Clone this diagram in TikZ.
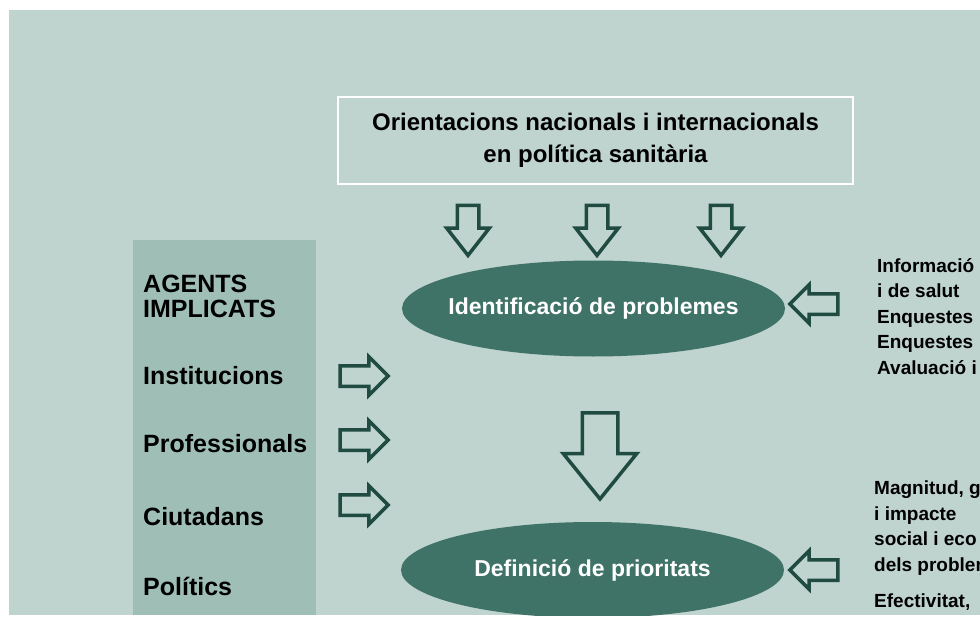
\documentclass[tikz,border=0pt]{standalone}
\usepackage{fontspec}
\setmainfont{Liberation Sans}
\usetikzlibrary{shapes.geometric,shapes.arrows}

\definecolor{plotbg}{HTML}{BFD3CF}
\definecolor{agentbg}{HTML}{9FBFB6}
\definecolor{stepfill}{HTML}{3F7367}
\definecolor{arrowline}{HTML}{1F4B41}

\newcommand\titlestyle{\fontsize{24}{32}\selectfont\bfseries}
\newcommand\agentstyle{\fontsize{25}{25}\selectfont\bfseries}
\newcommand\stepstyle{\fontsize{23}{23}\selectfont\bfseries}
\newcommand\sourcestyle{\fontsize{19}{25.5}\selectfont\bfseries}

\tikzset{
  hollowarrow/.style={single arrow, draw=arrowline, line width=3.5, fill=plotbg},
  smalldown/.style={hollowarrow, shape border rotate=270, minimum height=50, minimum width=39,
    inner sep=9, single arrow head extend=10.5, single arrow tip angle=76},
  bigdown/.style={hollowarrow, shape border rotate=270, minimum height=86, minimum width=70,
    inner sep=16, single arrow head extend=19, single arrow tip angle=78},
  sidearrow/.style={hollowarrow, minimum height=48, minimum width=35,
    inner sep=8.5, single arrow head extend=9, single arrow tip angle=90},
  orientbox/.style={draw=white, line width=2, minimum width=515, minimum height=87, align=center, font=\titlestyle},
  stepellipse/.style={ellipse, fill=stepfill, text=white, minimum width=383, minimum height=96,
    inner xsep=-12, inner ysep=0, font=\stepstyle},
  agenttext/.style={anchor=base west, inner sep=0, font=\agentstyle},
  sourcetext/.style={anchor=north west, inner sep=0, align=left, font=\sourcestyle}
}

\begin{document}
\begin{tikzpicture}[x=1pt, y=-1pt]
  \useasboundingbox (0,0) rectangle (980,623);
  \fill[plotbg] (9,10) rectangle (980,615);
  \begin{scope}
    \clip (9,10) rectangle (980,615);
    \fill[agentbg] (133,240) rectangle (316,615);

    \node[orientbox] (orient) at (595.5,140.5) {Orientacions nacionals i internacionals\\en política sanitària};
    \node[smalldown] (down1) at (468,223.5) {};
    \node[smalldown] (down2) at (597,223.5) {};
    \node[smalldown] (down3) at (721,223.5) {};

    \node[stepellipse] (ident) at (593.5,308.5) {Identificació de problemes};
    \node[bigdown] (downmid) at (600,445) {};
    \node[stepellipse] (defin) at (592.5,570) {Definició de prioritats};

    % informacio que entra per la dreta
    \node[sidearrow, shape border rotate=180] (infoarrow) at (819,304) {};
    \node[sidearrow, shape border rotate=180] (critarrow) at (819,570) {};
    \node[sourcetext] (info) at (877,258) {Informació\\i de salut\\Enquestes\\Enquestes\\Avaluació i};
    \node[sourcetext] (crit) at (874,481) {Magnitud, g\\i impacte\\social i eco\\dels problem};
    \node[sourcetext] (efect) at (874,594) {Efectivitat,};

    % agents implicats
    \node[agenttext] (agents) at (143,292) {AGENTS};
    \node[agenttext] (implicats) at (143,317) {IMPLICATS};
    \node[agenttext] (institucions) at (143,384) {Institucions};
    \node[agenttext] (professionals) at (143,452) {Professionals};
    \node[agenttext] (ciutadans) at (143,525) {Ciutadans};
    \node[agenttext] (politics) at (143,595) {Polítics};
    \node[sidearrow] (instarrow) at (359,376) {};
    \node[sidearrow] (profarrow) at (359,440) {};
    \node[sidearrow] (ciutarrow) at (359,505) {};
  \end{scope}
\end{tikzpicture}
\end{document}
